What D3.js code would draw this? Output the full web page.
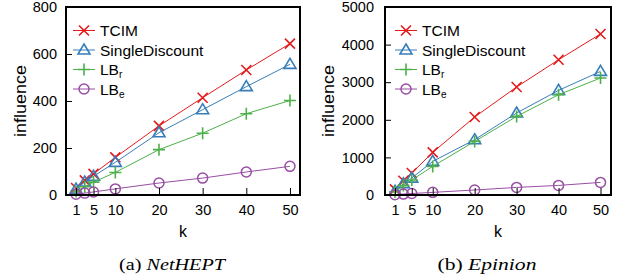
<!DOCTYPE html>
<html>
<head>
<meta charset="utf-8">
<script src="https://cdn.jsdelivr.net/npm/d3@7"></script>
<style>
  body { margin: 0; background: #fff; }
</style>
</head>
<body>
<div class="chart"></div>
<script>
// Data
const kValues = [1, 3, 5, 10, 20, 30, 40, 50];
const xTicks = [1, 5, 10, 20, 30, 40, 50];

const hepTCIM = [30, 62, 90, 160, 294, 414, 532, 644];
const hepSingleDiscount = [25, 55, 80, 139, 265, 363, 461, 556];
const hepLBr = [15, 35, 55, 96, 193, 263, 346, 402];
const hepLBe = [3, 8, 13, 26, 51, 72, 98, 122];
const hepYTicks = [0, 200, 400, 600, 800];

const epiTCIM = [150, 380, 585, 1133, 2074, 2872, 3598, 4282];
const epiSingleDiscount = [100, 300, 450, 894, 1471, 2181, 2782, 3287];
const epiLBr = [80, 250, 400, 761, 1426, 2090, 2667, 3111];
const epiLBe = [8, 25, 40, 70, 133, 202, 255, 335];
const epiYTicks = [0, 1000, 2000, 3000, 4000, 5000];

const seriesNames = ["TCIM", "SingleDiscount", "LBr", "LBe"];
const colors = ["#e41a1c", "#377eb8", "#4daf4a", "#984ea3"];
const markers = ["cross", "triangle", "plus", "circle"];

const sansFont = "'Liberation Sans'";
const serifFont = "'Liberation Serif'";

const svg = d3
  .select(".chart")
  .append("svg")
  .attr("width", 623)
  .attr("height", 280);

function drawMarker(g, type, x, y, color) {
  const s = 5;
  if (type === "cross") {
    g.append("path")
      .attr("d", `M${x - s},${y - s}L${x + s},${y + s}M${x - s},${y + s}L${x + s},${y - s}`)
      .attr("stroke", color).attr("stroke-width", 1.6).attr("fill", "none");
  } else if (type === "plus") {
    g.append("path")
      .attr("d", `M${x - s - 1},${y}L${x + s + 1},${y}M${x},${y - s - 1}L${x},${y + s + 1}`)
      .attr("stroke", color).attr("stroke-width", 1.6).attr("fill", "none");
  } else if (type === "triangle") {
    g.append("path")
      .attr("d", `M${x},${y - 6}L${x + 6},${y + 4}L${x - 6},${y + 4}Z`)
      .attr("stroke", color).attr("stroke-width", 1.6).attr("fill", "none");
  } else {
    g.append("circle")
      .attr("cx", x).attr("cy", y).attr("r", 5)
      .attr("stroke", color).attr("stroke-width", 1.5).attr("fill", "none");
  }
}

function drawChart(opt) {
  const xScale = d3.scaleLinear().domain(opt.xDomain).range([opt.left, opt.right]);
  const yScale = d3.scaleLinear().domain([0, opt.yMax]).range([opt.bottom, opt.top]);
  const g = svg.append("g");

  // Series lines and markers
  opt.series.forEach((vals, i) => {
    const pts = kValues.map((k, j) => [k, vals[j]]);
    g.append("path")
      .datum(pts)
      .attr("fill", "none")
      .attr("stroke", colors[i])
      .attr("stroke-width", 1)
      .attr("d", d3.line().x((d) => xScale(d[0])).y((d) => yScale(d[1])));
    pts.forEach((d) => drawMarker(g, markers[i], xScale(d[0]), yScale(d[1]), colors[i]));
  });

  // Axes with inward ticks
  const yAxis = g.append("g")
    .attr("transform", `translate(${opt.left},0)`)
    .call(d3.axisLeft(yScale).tickValues(opt.yTicks).tickFormat(d3.format("d"))
      .tickSize(-6).tickPadding(opt.yPad));
  const xAxis = g.append("g")
    .attr("transform", `translate(0,${opt.bottom})`)
    .call(d3.axisBottom(xScale).tickValues(xTicks).tickSize(-7).tickPadding(10));
  [yAxis, xAxis].forEach((a) => {
    a.attr("font-family", null).attr("font-size", null);
    a.select(".domain").remove();
    a.selectAll("line").attr("stroke", "#000").attr("stroke-width", 1);
    a.selectAll("text").attr("fill", "#000")
      .style("font-size", "14.5px").style("font-family", sansFont);
  });

  // Frame
  g.append("rect")
    .attr("x", opt.left).attr("y", opt.top)
    .attr("width", opt.right - opt.left).attr("height", opt.bottom - opt.top)
    .attr("fill", "none").attr("stroke", "#000").attr("stroke-width", 2);

  // Axis titles
  g.append("text")
    .attr("x", (opt.left + opt.right) / 2).attr("y", 237)
    .attr("text-anchor", "middle")
    .style("font-family", sansFont).style("font-size", "16px").text("k");
  g.append("text")
    .attr("transform", `translate(${opt.yLabelX},${(opt.top + opt.bottom) / 2}) rotate(-90)`)
    .attr("text-anchor", "middle")
    .attr("textLength", 72).attr("lengthAdjust", "spacingAndGlyphs")
    .style("font-family", sansFont).style("font-size", "16px").text("influence");

  // Legend
  seriesNames.forEach((name, i) => {
    const y = 30.5 + i * 19.5;
    g.append("line")
      .attr("x1", opt.legendX).attr("x2", opt.legendX + 22)
      .attr("y1", y).attr("y2", y)
      .attr("stroke", colors[i]).attr("stroke-width", 1);
    drawMarker(g, markers[i], opt.legendX + 11, y, colors[i]);
    const t = g.append("text")
      .attr("x", opt.legendX + 27).attr("y", y + 5.5)
      .style("font-family", sansFont).style("font-size", "15.5px");
    if (name.startsWith("LB")) {
      t.append("tspan").text("LB");
      t.append("tspan").style("font-size", "10px").attr("dy", 3).text(name.slice(2));
    } else {
      t.text(name);
    }
  });

  // Caption
  const cap = g.append("text")
    .attr("x", opt.captionX).attr("y", 270)
    .attr("text-anchor", "middle")
    .attr("textLength", opt.captionWidth).attr("lengthAdjust", "spacingAndGlyphs")
    .style("font-family", serifFont).style("font-size", "16px");
  cap.append("tspan").text(opt.captionLabel + " ");
  cap.append("tspan").style("font-style", "italic").text(opt.captionName);
}

drawChart({
  left: 66, right: 300, top: 7, bottom: 195,
  xDomain: [-1.3, 52.3], yMax: 800, yTicks: hepYTicks, yPad: 9,
  series: [hepTCIM, hepSingleDiscount, hepLBr, hepLBe],
  yLabelX: 26, legendX: 73, captionX: 172, captionWidth: 106,
  captionLabel: "(a)", captionName: "NetHEPT"
});

drawChart({
  left: 385, right: 611, top: 7, bottom: 195,
  xDomain: [-1.38, 52.5], yMax: 5000, yTicks: epiYTicks, yPad: 11,
  series: [epiTCIM, epiSingleDiscount, epiLBr, epiLBe],
  yLabelX: 334, legendX: 395, captionX: 487, captionWidth: 99,
  captionLabel: "(b)", captionName: "Epinion"
});
</script>
</body>
</html>
